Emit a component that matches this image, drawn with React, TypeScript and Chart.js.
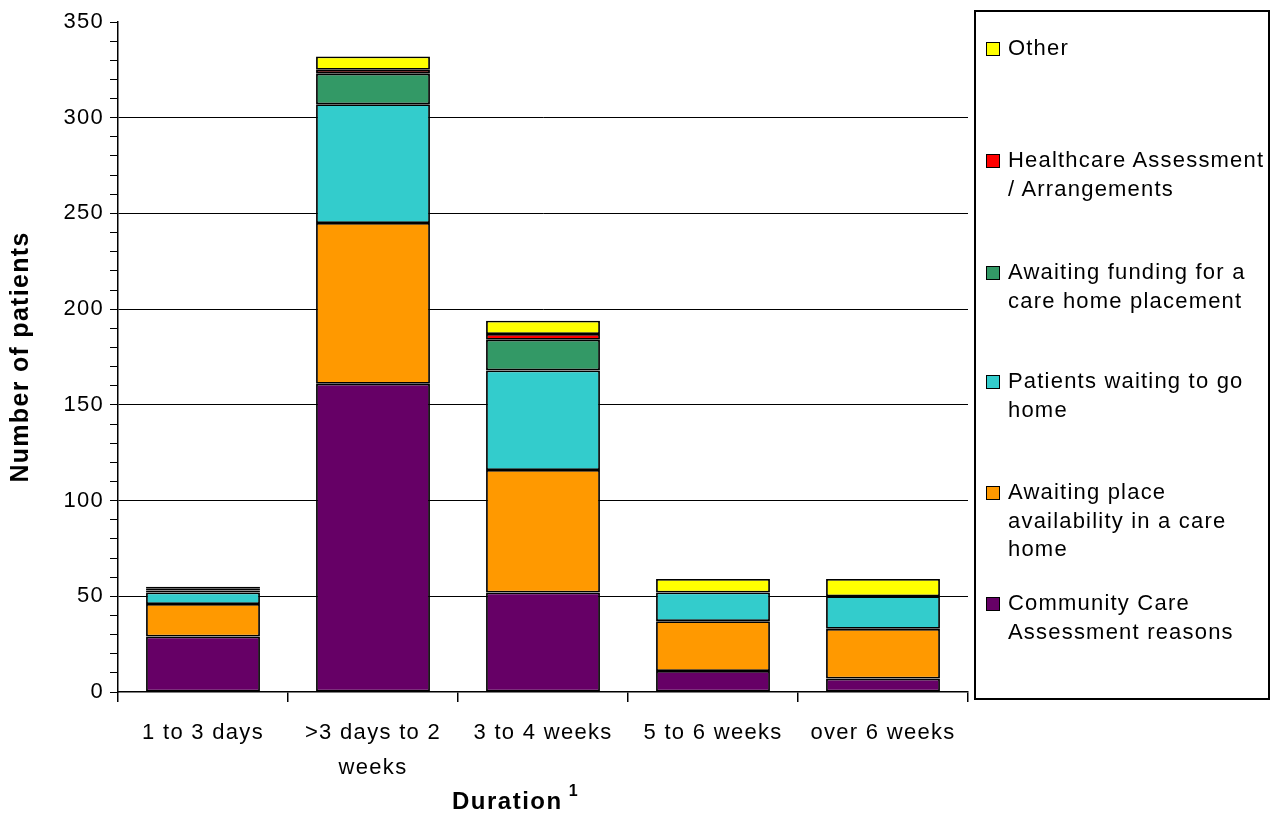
import React, { useEffect, useRef } from "react";
import { Chart, registerables } from "chart.js";

Chart.register(...registerables);

const categories: (string | string[])[] = ["1 to 3 days", [">3 days to 2", "weeks"], "3 to 4 weeks", "5 to 6 weeks", "over 6 weeks"];
const community = [29, 161, 52, 11, 7];
const placeAvailability = [17, 84, 64, 26, 26];
const waitingHome = [6, 62, 52, 15, 17];
const funding = [1, 16, 16, 0, 0];
const healthcare = [1, 2, 3, 0, 0];
const other = [1, 7, 7, 7, 9];

const seriesNames = [
  "Community Care Assessment reasons",
  "Awaiting place availability in a care home",
  "Patients waiting to go home",
  "Awaiting funding for a care home placement",
  "Healthcare Assessment / Arrangements",
  "Other",
];
const seriesColors = ["#660066", "#FF9900", "#33CCCC", "#339966", "#FF0000", "#FFFF00"];

const legendItems: { lines: string[]; color: string; top: number }[] = [
  { lines: ["Other"], color: "#FFFF00", top: 48 },
  { lines: ["Healthcare Assessment", "/ Arrangements"], color: "#FF0000", top: 160 },
  { lines: ["Awaiting funding for a", "care home placement"], color: "#339966", top: 272 },
  { lines: ["Patients waiting to go", "home"], color: "#33CCCC", top: 381 },
  { lines: ["Awaiting place", "availability in a care", "home"], color: "#FF9900", top: 492 },
  { lines: ["Community Care", "Assessment reasons"], color: "#660066", top: 603 },
];

const FONT = "Arial, 'Liberation Sans', sans-serif";

const spacingPlugin = {
  id: "spacing",
  beforeDraw: (chart: any) => {
    try {
      (chart.ctx as any).letterSpacing = "1.3px";
    } catch (e) {}
  },
};

export default function App() {
  const ref = useRef<HTMLCanvasElement | null>(null);

  useEffect(() => {
    if (!ref.current) return;
    const values = [community, placeAvailability, waitingHome, funding, healthcare, other];
    const chart = new Chart(ref.current, {
      type: "bar",
      plugins: [spacingPlugin],
      data: {
        labels: categories,
        datasets: values.map((v, i) => ({
          label: seriesNames[i],
          data: v,
          backgroundColor: seriesColors[i],
          borderColor: "#000000",
          borderWidth: 1.8,
          borderSkipped: false,
          categoryPercentage: 1,
          barPercentage: 0.67,
        })),
      },
      options: {
        animation: false,
        responsive: false,
        maintainAspectRatio: false,
        layout: { padding: { left: 0, right: 308, top: 22, bottom: 0 } },
        plugins: { legend: { display: false }, tooltip: { enabled: false } },
        scales: {
          x: {
            stacked: true,
            afterFit: (scale: any) => { scale.height = 133; },
            border: { color: "#000000", width: 1.5 },
            grid: {
              offset: true,
              drawOnChartArea: false,
              drawTicks: true,
              tickLength: 10,
              tickColor: "#000000",
              lineWidth: 1.5,
            },
            ticks: {
              color: "#000000",
              font: { family: FONT, size: 22, lineHeight: 1.6 },
              padding: 13,
              maxRotation: 0,
              autoSkip: false,
            },
            title: { display: false },
          },
          y: {
            stacked: true,
            min: 0,
            max: 350,
            afterFit: (scale: any) => { scale.width = 118; },
            border: { color: "#000000", width: 1.5 },
            grid: {
              drawTicks: true,
              tickLength: 8,
              tickColor: "#000000",
              color: (ctx: any) => {
                const v = ctx.tick ? ctx.tick.value : 0;
                return v % 50 === 0 && v !== 350 && v !== 0 ? "#000000" : "rgba(0,0,0,0)";
              },
              lineWidth: 1,
            },
            ticks: {
              stepSize: 10,
              autoSkip: false,
              color: "#000000",
              font: { family: FONT, size: 22 },
              padding: 6,
              callback: (v: any) => (Number(v) % 50 === 0 ? String(v) : ""),
            },
            title: {
              display: true,
              text: "Number of patients",
              color: "#000000",
              font: { family: FONT, size: 25, weight: "bold" },
              padding: { top: 6, bottom: 0 },
            },
          },
        },
      },
    });
    return () => chart.destroy();
  }, []);

  return (
    <div style={{ position: "fixed", left: 0, top: 0, width: 1276, height: 825, background: "#ffffff" }}>
      <canvas ref={ref} width={1276} height={825} style={{ position: "absolute", left: 0, top: 0 }} />
      <div
        style={{
          position: "absolute",
          left: 452,
          top: 786,
          height: 30,
          fontFamily: FONT,
          fontWeight: "bold",
          fontSize: 24,
          lineHeight: "30px",
          letterSpacing: "1.5px",
          whiteSpace: "nowrap",
          color: "#000000",
        }}
      >
        Duration
        <span style={{ position: "relative", top: -13, fontSize: 16, marginLeft: 6 }}>1</span>
      </div>
      <div
        style={{
          position: "absolute",
          left: 974,
          top: 10,
          width: 296,
          height: 690,
          border: "2px solid #000000",
          boxSizing: "border-box",
          fontFamily: FONT,
          fontSize: 22,
          color: "#000000",
        }}
      >
        {legendItems.map((it, i) => (
          <div key={i} style={{ position: "absolute", left: 0, top: it.top - 10 - 15, width: 296 }}>
            <div
              style={{
                position: "absolute",
                left: 10,
                top: 7,
                width: 12,
                height: 12,
                background: it.color,
                border: "1.5px solid #000000",
              }}
            />
            <div style={{ position: "absolute", left: 32, top: -1, lineHeight: "28.5px", letterSpacing: "1.2px", whiteSpace: "nowrap" }}>
              {it.lines.map((l, j) => (
                <div key={j}>{l}</div>
              ))}
            </div>
          </div>
        ))}
      </div>
    </div>
  );
}
